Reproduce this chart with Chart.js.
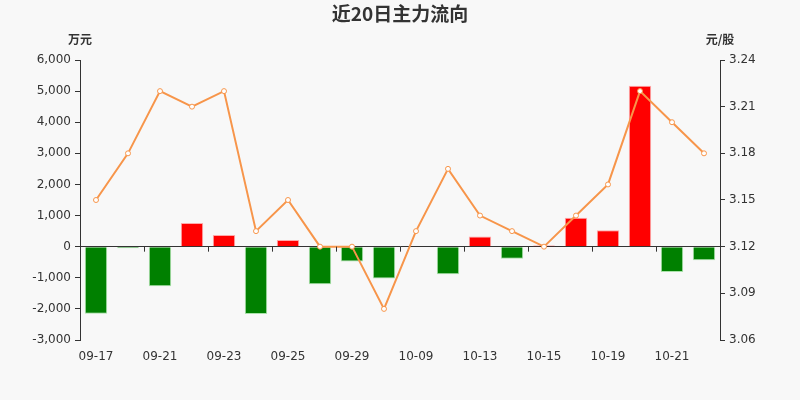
<!DOCTYPE html>
<html>
<head>
<meta charset="utf-8">
<script src="https://cdn.jsdelivr.net/npm/chart.js@4/dist/chart.umd.min.js"></script>
<style>
  html, body { margin: 0; padding: 0; background: #f8f8f8; }
  #wrap { width: 800px; height: 400px; }
</style>
</head>
<body>
<div id="wrap"><canvas id="c" width="800" height="400"></canvas></div>
<script>
const dates = ['09-17', '09-18', '09-21', '09-22', '09-23', '09-24', '09-25', '09-28', '09-29', '09-30',
  '10-09', '10-12', '10-13', '10-14', '10-15', '10-16', '10-19', '10-20', '10-21', '10-22'];
// main force net inflow, 10k yuan
const flows = [-2160, -50, -1275, 760, 375, -2165, 215, -1210, -480, -1020,
  -20, -890, 330, -385, 40, 930, 525, 5175, -815, -440];
// closing price, yuan/share
const prices = [3.15, 3.18, 3.22, 3.21, 3.22, 3.13, 3.15, 3.12, 3.12, 3.08,
  3.13, 3.17, 3.14, 3.13, 3.12, 3.14, 3.16, 3.22, 3.20, 3.18];

const axisColor = '#333';
const tickFont = { family: 'DejaVu Sans', size: 12 };

const extras = {
  id: 'extras',
  afterDraw(chart) {
    const ctx = chart.ctx;
    const x = chart.scales.x;
    const y = chart.scales.y;
    const area = chart.chartArea;
    const y0 = y.getPixelForValue(0);
    ctx.save();
    // category tick marks on the zero line
    ctx.strokeStyle = axisColor;
    ctx.lineWidth = 1;
    const half = (x.getPixelForValue(1) - x.getPixelForValue(0)) / 2;
    for (let i = 0; i < dates.length; i += 2) {
      const px = Math.round(x.getPixelForValue(i) - half) + 0.5;
      ctx.beginPath();
      ctx.moveTo(px, y0);
      ctx.lineTo(px, y0 + 5);
      ctx.stroke();
    }
    // title and units
    ctx.fillStyle = axisColor;
    ctx.textAlign = 'center';
    ctx.textBaseline = 'middle';
    ctx.font = 'bold 19px "Noto Sans CJK SC"';
    ctx.fillText('近20日主力流向', 400, 14);
    ctx.font = 'bold 12px "Noto Sans CJK SC"';
    ctx.fillText('万元', area.left, 39);
    ctx.fillText('元/股', area.right, 39);
    ctx.restore();
  }
};

new Chart(document.getElementById('c'), {
  type: 'bar',
  data: {
    labels: dates,
    datasets: [{
      type: 'line',
      data: prices,
      yAxisID: 'y1',
      borderColor: '#f7954a',
      borderWidth: 2,
      pointRadius: 2.5,
      pointBorderWidth: 1,
      pointBackgroundColor: '#ffffff',
      pointBorderColor: '#f7954a',
      tension: 0,
      order: 0
    }, {
      type: 'bar',
      data: flows,
      yAxisID: 'y',
      backgroundColor: flows.map(v => v >= 0 ? '#ff0000' : '#008000'),
      borderColor: flows.map(v => v >= 0 ? 'rgba(255,150,150,0.8)' : 'rgba(150,220,150,0.8)'),
      borderWidth: 1,
      barPercentage: 0.7,
      categoryPercentage: 1.0,
      order: 1
    }]
  },
  options: {
    responsive: false,
    animation: false,
    layout: { padding: { top: 60, bottom: 0, left: 0, right: 0 } },
    plugins: {
      legend: { display: false },
      title: { display: false },
      tooltip: { enabled: false }
    },
    scales: {
      x: {
        offset: true,
        grid: { display: false },
        border: { display: false },
        ticks: {
          autoSkip: false,
          maxRotation: 0,
          color: axisColor,
          font: tickFont,
          padding: 2,
          callback: (v, i) => i % 2 === 0 ? dates[i] : ''
        },
        afterFit: s => { s.height = 60; }
      },
      y: {
        position: 'left',
        min: -3000,
        max: 6000,
        ticks: {
          stepSize: 1000,
          color: axisColor,
          font: tickFont,
          padding: 4,
          callback: v => v.toLocaleString('en-US')
        },
        grid: {
          color: c => c.tick && c.tick.value === 0 ? axisColor : 'transparent',
          tickColor: axisColor,
          tickLength: 5
        },
        border: { display: true, color: axisColor },
        afterFit: s => { s.width = 80; }
      },
      y1: {
        position: 'right',
        min: 3.06,
        max: 3.24,
        ticks: {
          stepSize: 0.03,
          color: axisColor,
          font: tickFont,
          padding: 4,
          callback: v => v.toFixed(2)
        },
        grid: {
          drawOnChartArea: false,
          tickColor: axisColor,
          tickLength: 5
        },
        border: { display: true, color: axisColor },
        afterFit: s => { s.width = 80; }
      }
    }
  },
  plugins: [extras]
});
</script>
</body>
</html>
